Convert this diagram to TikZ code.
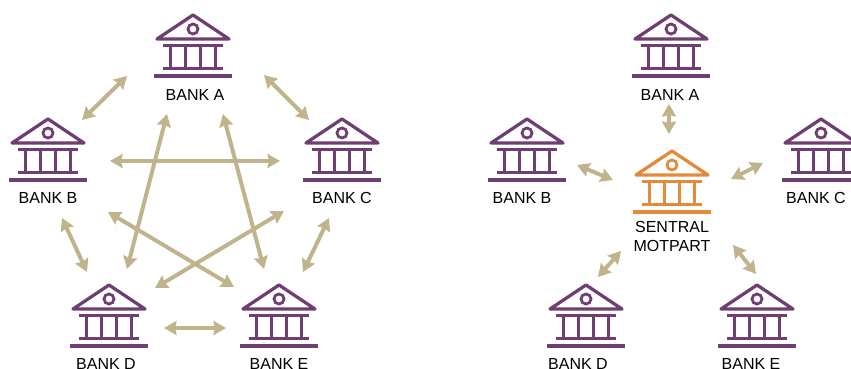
\documentclass[tikz,border=0pt]{standalone}
\usepackage{fontspec}
\setmainfont{Liberation Sans}
\usetikzlibrary{arrows.meta}
\definecolor{bankpurple}{HTML}{6F3F73}
\definecolor{bankorange}{HTML}{E38B3D}
\definecolor{linktan}{HTML}{BFB48C}
\tikzset{%
  link/.style = {{Stealth[length=12.5pt,width=14pt,inset=1.5pt]}-{Stealth[length=12.5pt,width=14pt,inset=1.5pt]},
        linktan,line width=4pt},
  l/.style = {font=\fontsize{16}{19}\selectfont,align=center,inner sep=0pt,text=black},
  bank/.pic = {
    \draw[line width=3.3pt,line join=round,line cap=round] (-36,24) -- (0,0) -- (36,24) -- cycle;
    \draw[line width=2.8pt] (0,14) circle[radius=5];
    \draw[line width=3.3pt] (-30,30.5) -- (30,30.5) (-30,53.5) -- (30,53.5);
    \foreach \px in {-22.5,-7.5,7.5,22.5}
      \draw[line width=3.3pt] (\px,30.5) -- (\px,53.5);
    \draw[line width=4.4pt] (-39,61) -- (39,61);
  }
}
\begin{document}
\begin{tikzpicture}[x=1pt,y=-1pt]
\useasboundingbox (0,0) rectangle (851,369);
% banks on the left
\pic[bankpurple] (a1) at (193,15) {bank};
\pic[bankpurple] (b1) at (48,119) {bank};
\pic[bankpurple] (c1) at (342,119) {bank};
\pic[bankpurple] (d1) at (109,285) {bank};
\pic[bankpurple] (e1) at (279,285) {bank};
\node[l] (la1) at (195,95) {BANK A};
\node[l] (lb1) at (48,198) {BANK B};
\node[l] (lc1) at (342,198) {BANK C};
\node[l] (ld1) at (106,364) {BANK D};
\node[l] (le1) at (279,364) {BANK E};
% banks on the right
\pic[bankpurple] (a2) at (671,15) {bank};
\pic[bankpurple] (b2) at (527,119) {bank};
\pic[bankpurple] (c2) at (821,119) {bank};
\pic[bankpurple] (d2) at (586,285) {bank};
\pic[bankpurple] (e2) at (757,285) {bank};
\pic[bankorange] (m) at (672,151) {bank};
\node[l] (la2) at (670,95) {BANK A};
\node[l] (lb2) at (522,198) {BANK B};
\node[l] (lc2) at (816,198) {BANK C};
\node[l] (ld2) at (578,364) {BANK D};
\node[l] (le2) at (751,364) {BANK E};
\node[l] (lm) at (672,236.5) {SENTRAL\\MOTPART};
% arrows
\foreach \n/\xa/\ya/\xb/\yb in {ab/127/76/82/120,ac/264/75/309/120,bc/110/161/280/161,
    ad/167/114/127/269,ae/223/114/264/269,bd/62/218/87/272,ce/329/218/303/272,
    be/108/212/234/287,cd/284/211/155/288,de/164/328/226/328,
    am/669/104/669/134,bm/577/165/613/180,cm/763/163/731/179,dm/598/277/621/251,em/733/245/756/274}{
  \coordinate (\n s) at (\xa,\ya);
  \coordinate (\n t) at (\xb,\yb);
  \draw[link] (\n s) -- (\n t);
}
\end{tikzpicture}
\end{document}
